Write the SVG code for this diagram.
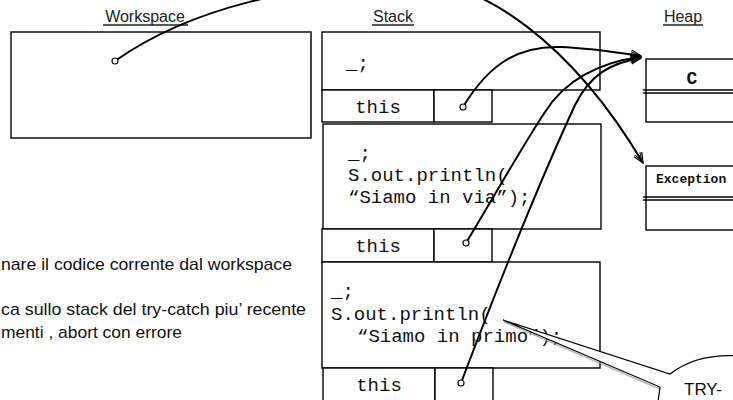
<svg xmlns="http://www.w3.org/2000/svg" width="733" height="400" viewBox="0 0 733 400">
<style>
.box{fill:#fff;stroke:#000;stroke-width:1.4}
.ln{fill:none;stroke:#000;stroke-width:1.4}
.lbl{font-family:"Liberation Sans",Arial,sans-serif;font-size:16px;fill:#222}
.ul{stroke:#222;stroke-width:1.6}
.code{font-family:"Liberation Mono","Courier New",monospace;font-size:19px;fill:#111}
.cls{font-family:"Liberation Mono","Courier New",monospace;font-weight:bold;fill:#111}
.note{font-family:"Liberation Sans",Arial,sans-serif;font-size:17px;fill:#111}
.conn{fill:none;stroke:#000;stroke-width:2}
.dot{fill:#fff;stroke:#000;stroke-width:1.2}
</style>
<defs>
<marker id="open" viewBox="0 0 12 12" refX="11" refY="6" markerWidth="12" markerHeight="12" markerUnits="userSpaceOnUse" orient="auto">
<path d="M1,1.5 L11,6 L1,10.5" fill="none" stroke="#000" stroke-width="1.3"/>
<path d="M0,3 L8,6 L0,9" fill="none" stroke="#000" stroke-width="1"/>
</marker>
</defs>

<g id="labels">
<text class="lbl" x="145" y="22" text-anchor="middle">Workspace</text>
<line class="ul" x1="103" y1="25" x2="188" y2="25"/>
<text class="lbl" x="393" y="22" text-anchor="middle">Stack</text>
<line class="ul" x1="372" y1="25" x2="414" y2="25"/>
<text class="lbl" x="683" y="22" text-anchor="middle">Heap</text>
<line class="ul" x1="663" y1="25" x2="703" y2="25"/>
</g>

<g id="workspace">
<rect class="box" x="11" y="32" width="300" height="106"/>
<line x1="311" y1="32" x2="311" y2="138" stroke="#444" stroke-width="2"/>
</g>

<g id="frame1">
<rect class="box" x="322" y="32" width="278" height="58"/>
<text class="code" x="346" y="69">_;</text>
<rect class="box" x="322" y="90" width="112" height="32"/>
<rect class="box" x="434" y="90" width="58" height="32"/>
<text class="code" x="378" y="113" text-anchor="middle">this</text>
</g>

<g id="frame2">
<rect class="box" x="323" y="124" width="278" height="105"/>
<text class="code" x="348" y="159">_;</text>
<text class="code" x="348" y="181">S.out.println(</text>
<text class="code" x="348" y="203">“Siamo in via”);</text>
<rect class="box" x="322" y="229" width="112" height="33"/>
<rect class="box" x="434" y="229" width="58" height="33"/>
<text class="code" x="378" y="252" text-anchor="middle">this</text>
</g>

<g id="frame3">
<rect class="box" x="322" y="262" width="278" height="106"/>
<text class="code" x="331" y="297">_;</text>
<text class="code" x="331" y="320">S.out.println(</text>
<text class="code" x="357" y="342">“Siamo in primo”);</text>
<rect class="box" x="323" y="368" width="112" height="34"/>
<rect class="box" x="435" y="368" width="58" height="34"/>
<text class="code" x="379" y="391" text-anchor="middle">this</text>
</g>

<g id="heap-c">
<rect class="box" x="646" y="59" width="100" height="63"/>
<line class="ln" x1="643" y1="90" x2="746" y2="90"/>
<line class="ln" x1="643" y1="93" x2="746" y2="93"/>
<text class="cls" x="692" y="84" font-size="18" text-anchor="middle">C</text>
</g>

<g id="heap-exception">
<rect class="box" x="646" y="166" width="100" height="64"/>
<line class="ln" x1="643" y1="197" x2="746" y2="197"/>
<line class="ln" x1="643" y1="200" x2="746" y2="200"/>
<text class="cls" x="656" y="183" font-size="13">Exception</text>
</g>

<g id="notes">
<text class="note" x="1" y="270" textLength="291" lengthAdjust="spacingAndGlyphs">nare il codice corrente dal workspace</text>
<text class="note" x="1" y="315" textLength="305" lengthAdjust="spacingAndGlyphs">ca sullo stack del try-catch piu’ recente</text>
<text class="note" x="1" y="338" textLength="181" lengthAdjust="spacingAndGlyphs">menti , abort con errore</text>
</g>

<g id="connectors">
<path class="conn" d="M115,61 C190,8 300,-18 420,-18 C480,-18 570,40 643,163" marker-end="url(#open)"/>
<path class="conn" d="M463,107 C490,62 520,46 560,47 C590,48 615,52 641,56" marker-end="url(#open)"/>
<path class="conn" d="M466,243 C495,195 520,150 545,112 C565,80 600,62 641,57" marker-end="url(#open)"/>
<path class="conn" d="M461,383 C500,280 545,170 575,105 C590,75 610,63 641,58" marker-end="url(#open)"/>
<circle class="dot" cx="115" cy="61" r="3"/>
<circle class="dot" cx="463" cy="107" r="3"/>
<circle class="dot" cx="466" cy="243" r="3"/>
<circle class="dot" cx="461" cy="383" r="3"/>
</g>

<g id="callout">
<path d="M504,322 L672,377 M504,322 L662,390" fill="none" stroke="#999" stroke-width="1.5" opacity="0.7"/>
<path d="M503,320 L670,374 Q697,353 740,356 L740,402 L658,402 L660,387 Z" fill="#fff" stroke="none"/>
<path d="M503,320 L670,374 Q697,353 740,356 M503,320 L660,387 L658,402" fill="none" stroke="#000" stroke-width="1.2"/>
<text class="note" x="684" y="395">TRY-</text>
</g>
</svg>
